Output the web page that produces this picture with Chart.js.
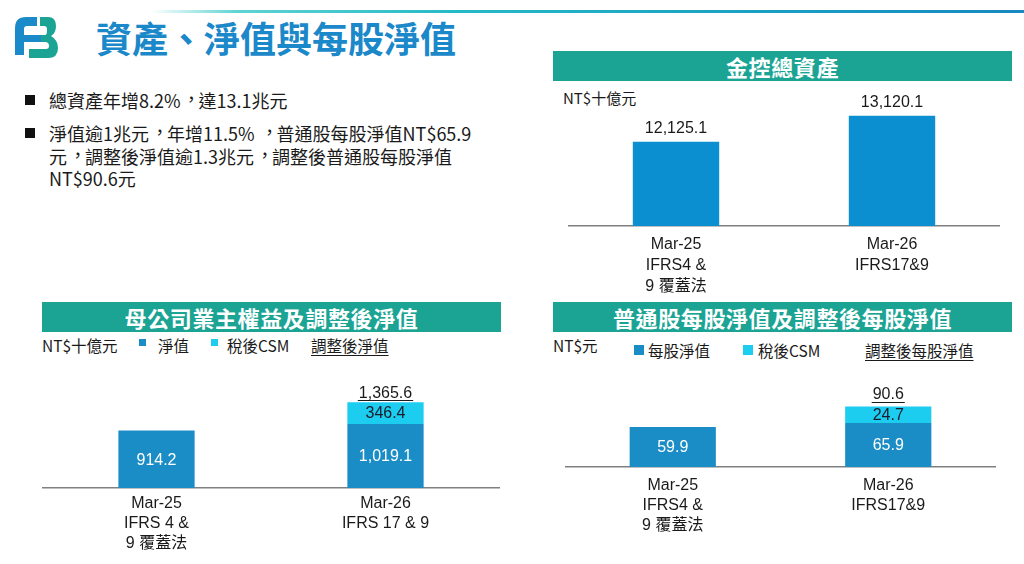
<!DOCTYPE html>
<html lang="zh-Hant-TW">
<head>
<meta charset="utf-8">
<script src="https://cdn.jsdelivr.net/npm/chart.js@4.4.1/dist/chart.umd.min.js"></script>
<style>
  body { margin: 0; background: #fff; }
  #page { position: relative; width: 1024px; height: 564px; overflow: hidden; background: #fff;
          font-family: 'Noto Sans CJK TC', 'Liberation Sans', sans-serif; color: #1a1a1a; }
  .abs { position: absolute; white-space: nowrap; }
  .hdr { position: absolute; background: #1ba393; color: #fff; font-weight: bold; font-size: 22px;
         display: flex; align-items: center; justify-content: center; letter-spacing: 0.6px; }
  .leg { position: absolute; white-space: nowrap; font-size: 15.5px; line-height: 20px; height: 20px; }
  .sq { position: absolute; }
  .ul { text-decoration: underline; text-underline-offset: 3px; text-decoration-thickness: 1px; }
  .cw { position: absolute; }
  .p { display: inline-block; width: 1em; text-indent: 0.1em; overflow: hidden; vertical-align: top; position: relative; top: -2px; }
</style>
</head>
<body>
<div id="page">
  <!-- top gradient line -->
  <div class="abs" style="left:150px;top:10px;width:874px;height:3px;background:linear-gradient(to right, rgba(120,225,225,0) 0%, #5fd3d3 10%, #25b9c6 35%, #1a9fc4 70%, #1689c0 100%);"></div>

  <!-- logo -->
  <svg class="abs" style="left:0;top:0;" width="70" height="70" viewBox="0 0 70 70">
    <path d="M15 28 Q15 17 26 17 L37 17 L37 26 L27 26 Q24 26 24 29 L24 55 L15 55 Z" fill="#1b8ac9"/>
    <rect x="24" y="35" width="17" height="7" fill="#1b8ac9"/>
    <path d="M40 17 L48 17 Q56 17 56 26 Q56 33 51 36 Q58 40 58 48 Q58 58 48 58 L29 58 L29 49 L46 49 Q49 49 49 46 Q49 42 45 42 L41 42 L41 35 L45 35 Q47 35 47 31 L47 29 Q47 26 44 26 L40 26 Z" fill="#1ba393"/>
  </svg>

  <!-- title -->
  <div class="abs" style="left:96px;top:15px;font-size:36px;line-height:44px;font-weight:bold;color:#1b88c9;">資產、淨值與每股淨值</div>

  <!-- bullets -->
  <div class="sq" style="left:25px;top:95px;width:10px;height:10px;background:#111;"></div>
  <div class="abs" style="left:49px;top:89px;font-size:18px;line-height:22px;">總資產年增8.2%<span class="p">，</span>達13.1兆元</div>
  <div class="sq" style="left:25px;top:128px;width:10px;height:10px;background:#111;"></div>
  <div class="abs" style="left:49px;top:122px;font-size:18px;line-height:22.5px;">淨值逾1兆元<span class="p">，</span>年增11.5% <span class="p">，</span>普通股每股淨值NT$65.9<br>元<span class="p">，</span>調整後淨值逾1.3兆元<span class="p">，</span>調整後普通股每股淨值<br>NT$90.6元</div>

  <!-- headers -->
  <div class="hdr" style="left:553px;top:51px;width:459px;height:30px;">金控總資產</div>
  <div class="hdr" style="left:42px;top:302px;width:459px;height:30px;">母公司業主權益及調整後淨值</div>
  <div class="hdr" style="left:553px;top:302px;width:459px;height:30px;">普通股每股淨值及調整後每股淨值</div>

  <!-- chart 1 unit -->
  <div class="leg" style="left:563px;top:88px;font-size:15px;">NT$十億元</div>

  <!-- chart 2 legend -->
  <div class="leg" style="left:42px;top:335px;">NT$十億元</div>
  <div class="sq" style="left:139px;top:339px;width:7px;height:7px;background:#1b8dc6;"></div>
  <div class="leg" style="left:158px;top:335px;">淨值</div>
  <div class="sq" style="left:211px;top:339px;width:7px;height:7px;background:#1ccdf0;"></div>
  <div class="leg" style="left:227px;top:335px;">稅後CSM</div>
  <div class="leg ul" style="left:311px;top:335px;">調整後淨值</div>

  <!-- chart 3 legend -->
  <div class="leg" style="left:553px;top:335px;">NT$元</div>
  <div class="sq" style="left:634px;top:345px;width:10px;height:10px;background:#1b8dc6;"></div>
  <div class="leg" style="left:648px;top:340px;">每股淨值</div>
  <div class="sq" style="left:743px;top:345px;width:10px;height:10px;background:#1ccdf0;"></div>
  <div class="leg" style="left:758px;top:340px;">稅後CSM</div>
  <div class="leg ul" style="left:865px;top:340px;">調整後每股淨值</div>

  <div class="cw" style="left:568px;top:90px;width:432px;height:215px;"><canvas id="c1"></canvas></div>
  <div class="cw" style="left:42px;top:356px;width:458px;height:205px;"><canvas id="c2"></canvas></div>
  <div class="cw" style="left:565px;top:357px;width:431px;height:195px;"><canvas id="c3"></canvas></div>
</div>

<script>
// ---------- data ----------
const assetCategories = [['Mar-25', 'IFRS4 &', '9 覆蓋法'], ['Mar-26', 'IFRS17&9']];
const totalAssets = [12125.1, 13120.1];

const equityCategories = [['Mar-25', 'IFRS 4 &', '9 覆蓋法'], ['Mar-26', 'IFRS 17 & 9']];
const netWorth = [914.2, 1019.1];
const netWorthCsm = [null, 346.4];
const adjustedNetWorth = [null, 1365.6];

const bvpsCategories = [['Mar-25', 'IFRS4 &', '9 覆蓋法'], ['Mar-26', 'IFRS17&9']];
const bookValuePerShare = [59.9, 65.9];
const bvpsCsm = [null, 24.7];
const adjustedBookValuePerShare = [null, 90.6];

// ---------- helpers ----------
const LATIN = "'Liberation Sans', 'Noto Sans CJK TC', sans-serif";
const fmt = v => v.toLocaleString('en-US', { minimumFractionDigits: 1, maximumFractionDigits: 1 });

const valueLabels = {
  id: 'valueLabels',
  afterDatasetsDraw(chart, args, opts) {
    const ctx = chart.ctx;
    ctx.save();
    ctx.textAlign = 'center';
    ctx.textBaseline = 'middle';
    ctx.font = '16px ' + LATIN;
    (opts.inside || []).forEach(cfg => {
      const meta = chart.getDatasetMeta(cfg.dataset);
      const ds = chart.data.datasets[cfg.dataset];
      meta.data.forEach((el, i) => {
        const v = ds.data[i];
        if (v == null) return;
        const p = el.getProps(['x', 'y', 'base'], true);
        ctx.fillStyle = cfg.color;
        ctx.fillText(fmt(v), p.x, (p.y + p.base) / 2 + 1);
      });
    });
    if (opts.total) {
      const t = opts.total;
      const meta = chart.getDatasetMeta(0);
      t.values.forEach((v, i) => {
        if (v == null) return;
        const x = meta.data[i].x;
        const y = chart.scales.y.getPixelForValue(v) - t.offset;
        const s = fmt(v);
        ctx.fillStyle = t.color;
        ctx.fillText(s, x, y);
        if (t.underline) {
          const w = ctx.measureText(s).width;
          ctx.strokeStyle = t.color;
          ctx.lineWidth = 1;
          ctx.beginPath();
          ctx.moveTo(x - w / 2 - 1, Math.round(y + t.ulOffset) + 0.5);
          ctx.lineTo(x + w / 2 + 1, Math.round(y + t.ulOffset) + 0.5);
          ctx.stroke();
        }
      });
    }
    ctx.restore();
  }
};

function xAxis(axisHeight, padding, lineHeight) {
  return {
    stacked: true,
    grid: { display: false, drawTicks: false },
    border: { display: true, color: '#808080', width: 1.5 },
    ticks: { color: '#1a1a1a', padding: padding, font: { family: LATIN, size: 16, lineHeight: lineHeight }, maxRotation: 0, autoSkip: false },
    afterFit: s => { s.height = axisHeight; }
  };
}

function baseOptions(x, yMin, yMax, plug) {
  return {
    responsive: true,
    maintainAspectRatio: false,
    animation: false,
    layout: { padding: 0 },
    plugins: { legend: { display: false }, tooltip: { enabled: false }, valueLabels: plug },
    scales: {
      x: x,
      y: { display: false, stacked: true, min: yMin, max: yMax }
    }
  };
}

// ---------- chart 1 ----------
new Chart(document.getElementById('c1'), {
  type: 'bar',
  data: {
    labels: assetCategories,
    datasets: [{ data: totalAssets, backgroundColor: '#0b8fd0', categoryPercentage: 1, barPercentage: 0.4 }]
  },
  options: baseOptions(xAxis(79, 8, 1.32), 8900, 14100,
    { total: { values: totalAssets, offset: 13, color: '#1a1a1a', underline: false } }),
  plugins: [valueLabels]
});

// ---------- chart 2 ----------
new Chart(document.getElementById('c2'), {
  type: 'bar',
  data: {
    labels: equityCategories,
    datasets: [
      { data: netWorth, backgroundColor: '#1b8dc6', categoryPercentage: 1, barPercentage: 0.333 },
      { data: netWorthCsm, backgroundColor: '#1ccdf0', categoryPercentage: 1, barPercentage: 0.333 }
    ]
  },
  options: baseOptions(xAxis(73, 6, 1.23), 0, 2100, {
    inside: [{ dataset: 0, color: '#ffffff' }, { dataset: 1, color: '#1a1a2a' }],
    total: { values: adjustedNetWorth, offset: 9, color: '#1a1a1a', underline: true, ulOffset: 7 }
  }),
  plugins: [valueLabels]
});

// ---------- chart 3 ----------
new Chart(document.getElementById('c3'), {
  type: 'bar',
  data: {
    labels: bvpsCategories,
    datasets: [
      { data: bookValuePerShare, backgroundColor: '#1b8dc6', categoryPercentage: 1, barPercentage: 0.4 },
      { data: bvpsCsm, backgroundColor: '#1ccdf0', categoryPercentage: 1, barPercentage: 0.4 }
    ]
  },
  options: baseOptions(xAxis(85, 8.5, 1.25), 0, 165, {
    inside: [{ dataset: 0, color: '#ffffff' }, { dataset: 1, color: '#1a1a2a' }],
    total: { values: adjustedBookValuePerShare, offset: 12.5, color: '#1a1a1a', underline: true, ulOffset: 7.5 }
  }),
  plugins: [valueLabels]
});
</script>
</body>
</html>
